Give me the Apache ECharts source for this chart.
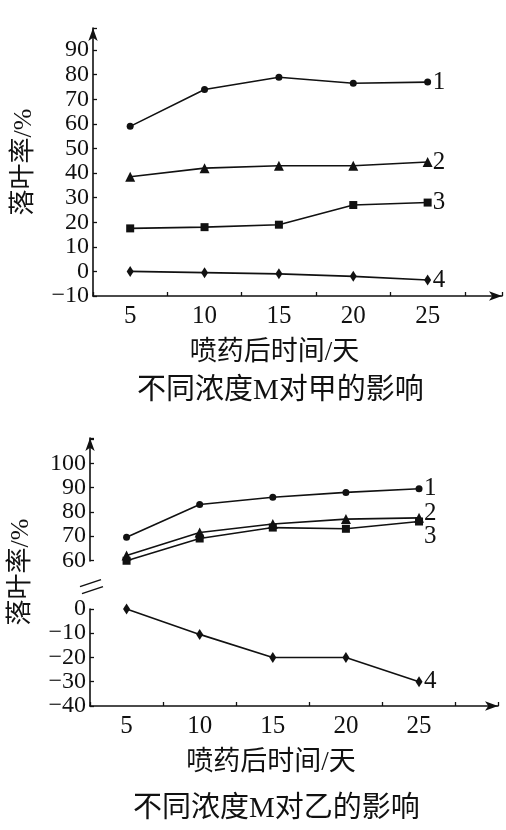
<!DOCTYPE html>
<html><head><meta charset="utf-8">
<script src="https://cdn.jsdelivr.net/npm/echarts@6/dist/echarts.min.js"></script>
<style>html,body{margin:0;padding:0;background:#fff}#c{width:506px;height:830px}</style>
</head><body><div id="c"></div>
<script>
// ---- data ----
const days = [5, 10, 15, 20, 25];
const lineLabels = ['1', '2', '3', '4'];
// 不同浓度M对甲的影响
const jia1 = [59, 74, 79, 76.5, 77];
const jia2 = [38.5, 42, 43, 43, 44.5];
const jia3 = [17.5, 18, 19, 27, 28];
const jia4 = [0, -0.5, -1, -2, -3.5];
// 不同浓度M对乙的影响
const yi1 = [69.5, 83, 86, 88, 89.5];
const yi2 = [62, 71.5, 75, 77, 77.5];
const yi3 = [59.5, 69, 73.5, 73, 76];
const yi4 = [0, -10.5, -20, -20, -30];
// tick labels
const xTickLabels = [5, 10, 15, 20, 25];
const jiaYTicks = [-10, 0, 10, 20, 30, 40, 50, 60, 70, 80, 90];
const yiYTicks = [-40, -30, -20, -10, 0, 60, 70, 80, 90, 100];
const titles = ['不同浓度M对甲的影响', '不同浓度M对乙的影响'];
const xName = '喷药后时间/天';
const yName = '落叶率/%';

const INK = '#111';
const SERIF = '"Liberation Serif","Times New Roman",serif';
const MIX = '"Liberation Serif","Noto Sans CJK SC",sans-serif';

const chart = echarts.init(document.getElementById('c'), null, {renderer: 'canvas'});

function fmtNum(v) { return String(v).replace('-', '\u2212'); }

function yAxisCfg(gi, min, max, ticks, extra) {
  return Object.assign({
    gridIndex: gi, type: 'value', min: min, max: max, interval: 10,
    axisLine: {show: true, lineStyle: {color: INK, width: 1.6}, symbol: ['none', 'arrow'], symbolSize: [7, 13]},
    axisTick: {show: true, inside: true, length: 4, lineStyle: {color: INK, width: 1.3}},
    splitLine: {show: false},
    axisLabel: {formatter: v => ticks.includes(v) ? fmtNum(v) : '', fontFamily: SERIF, fontSize: 24, color: INK, margin: 4},
    name: yName, nameLocation: 'middle', nameRotate: 90, nameGap: 56,
    nameTextStyle: {fontFamily: MIX, fontSize: 26, color: INK}
  }, extra || {});
}

function xTickAxis(gi, max) {
  return {
    gridIndex: gi, type: 'value', min: 2.5, max: max, interval: 5,
    axisLine: {show: true, onZero: false, lineStyle: {color: INK, width: 1.6}, symbol: ['none', 'arrow'], symbolSize: [7, 13]},
    axisTick: {show: true, inside: true, length: 4, lineStyle: {color: INK, width: 1.3}},
    axisLabel: {show: false}, splitLine: {show: false},
    name: xName, nameLocation: 'middle', nameGap: 43,
    nameTextStyle: {fontFamily: MIX, fontSize: 27, color: INK, padding: [0, 46, 0, 0]}
  };
}
function xLabelAxis(gi, max) {
  return {
    gridIndex: gi, type: 'value', min: 2.5, max: max, interval: 2.5, position: 'bottom',
    axisLine: {show: false, onZero: false}, axisTick: {show: false}, splitLine: {show: false},
    axisLabel: {formatter: v => xTickLabels.includes(v) ? String(v) : '', fontFamily: SERIF, fontSize: 25, color: INK, margin: 8}
  };
}

function mk(vals, sym, size, xi, yi, name, off) {
  return {
    type: 'line', name: name, xAxisIndex: xi, yAxisIndex: yi,
    data: days.map((d, i) => [d, vals[i]]),
    symbol: sym, symbolSize: size, showSymbol: true,
    lineStyle: {color: INK, width: 1.6}, itemStyle: {color: INK},
    endLabel: {show: true, formatter: name, distance: 5, offset: off || [0, 0], fontFamily: SERIF, fontSize: 25, color: INK},
    z: 3
  };
}

const syms = ['circle', 'triangle', 'rect', 'diamond'];
const sizes = [7, 10, 8, [7, 11]];
const jia = [jia1, jia2, jia3, jia4];
const yi = [yi1, yi2, yi3, yi4];
const yiOff = [[0, 0], [0, -4], [0, 15], [0, 0]];

const series = [];
jia.forEach((v, i) => series.push(mk(v, syms[i], sizes[i], 0, 0, lineLabels[i])));
yi.forEach((v, i) => series.push(mk(v, syms[i], sizes[i], 2, 1, lineLabels[i], yiOff[i])));

chart.setOption({
  animation: false,
  backgroundColor: '#fff',
  title: [
    {text: titles[0], left: 137, top: 377, padding: 0, textStyle: {fontFamily: MIX, fontSize: 29, fontWeight: 'normal', color: INK}},
    {text: titles[1], left: 133, top: 795, padding: 0, textStyle: {fontFamily: MIX, fontSize: 29, fontWeight: 'normal', color: INK}}
  ],
  grid: [
    {left: 93, width: 409, top: 28, height: 268},
    {left: 89, width: 409, top: 438, height: 268}
  ],
  xAxis: [xTickAxis(0, 30), xLabelAxis(0, 30), xTickAxis(1, 30.4), xLabelAxis(1, 30.4)],
  yAxis: [
    yAxisCfg(0, -10, 99, jiaYTicks),
    yAxisCfg(1, -40, 110.4, yiYTicks, {
      breaks: [{start: 0, end: 60, gap: 20}],
      breakArea: {show: false}
    })
  ],
  series: series
});

// axis-break marks "//"
const ax = chart.convertToPixel({xAxisIndex: 2}, 2.5);
const p0 = chart.convertToPixel({yAxisIndex: 1}, 0);
const p60 = chart.convertToPixel({yAxisIndex: 1}, 60);
const mid = (p0 + p60) / 2;
chart.setOption({
  graphic: [
    {type: 'line', shape: {x1: ax - 10, y1: mid + 2, x2: ax + 11, y2: mid - 5}, style: {stroke: INK, lineWidth: 1.5}, z: 10},
    {type: 'line', shape: {x1: ax - 8, y1: mid + 9, x2: ax + 13, y2: mid + 2}, style: {stroke: INK, lineWidth: 1.5}, z: 10}
  ]
});
</script></body></html>
